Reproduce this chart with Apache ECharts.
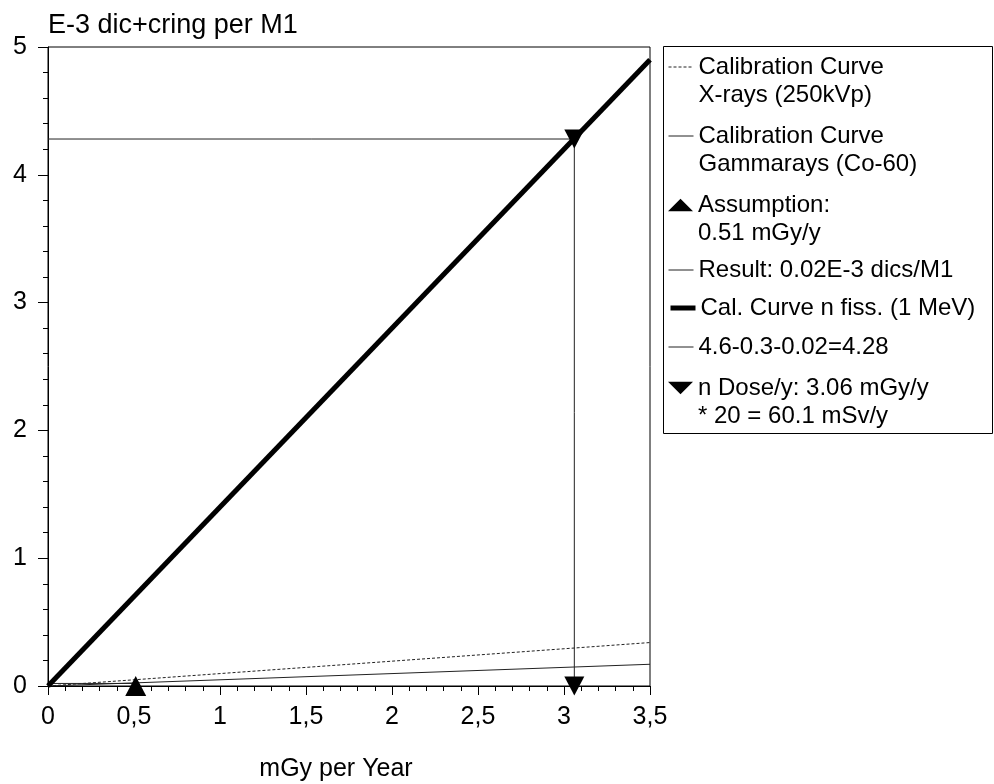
<!DOCTYPE html>
<html><head><meta charset="utf-8">
<script src="https://cdn.jsdelivr.net/npm/echarts@6/dist/echarts.min.js"></script>
<style>html,body{margin:0;padding:0;background:#fff}#c{width:994px;height:784px}</style>
</head><body><div id="c"></div>
<script>
// ---- data ----
const seriesNames = [
  'Calibration Curve\nX-rays (250kVp)',
  'Calibration Curve\nGammarays (Co-60)',
  'Assumption:\n0.51 mGy/y',
  'Result: 0.02E-3 dics/M1',
  'Cal. Curve n fiss. (1 MeV)',
  '4.6-0.3-0.02=4.28',
  'n Dose/y: 3.06 mGy/y\n* 20 = 60.1 mSv/y'
];
const xrayX = [0, 3.5];          const xrayY = [0, 0.34];
const gammaX = [0, 3.5];         const gammaY = [0, 0.17];
const assumptionX = [0.51];      const assumptionY = [0];
const resultX = [0, 0.51];       const resultY = [0.02, 0.02];
const fissX = [0, 3.5];          const fissY = [0, 4.9];
const readX = [0, 3.06, 3.06];   const readY = [4.28, 4.28, 0];
const nDoseX = [3.06, 3.06];     const nDoseY = [4.28, 0];
const xMin = 0, xMax = 3.5, xStep = 0.5;
const yMin = 0, yMax = 5, yStep = 1;
const xTitle = 'mGy per Year';
const yTitle = 'E-3 dic+cring per M1';

const zip = (xs, ys) => xs.map((x, i) => [x, ys[i]]);
const FONT = '"Liberation Sans", Arial, sans-serif';
const fmt = v => String(v).replace('.', ',');

const chart = echarts.init(document.getElementById('c'), null, {renderer: 'canvas'});

// legend layout (one legend per entry so icon aligns with first text line)
const legendRows = [67, 136, 205, 270, 308, 347, 388];
const legendIcons = [null, null, 'path://M1,0L2,1L0,1Z', null, null, null, 'path://M0,0L2,0L1,1Z'];
const legends = seriesNames.map((name, i) => {
  const two = name.indexOf('\n') >= 0;
  const item = {name: name};
  if (legendIcons[i]) item.icon = legendIcons[i];
  else item.itemStyle = {opacity: 0};
  return {
    show: true, left: 668, top: legendRows[i] - (two ? 42 : 14),
    padding: 0, itemWidth: 25, itemHeight: 14, selectedMode: false,
    data: [item],
    lineStyle: {width: 'inherit', type: 'inherit', color: 'inherit'},
    formatter: n => (two ? '\n' + n : n),
    textStyle: {fontFamily: FONT, fontSize: 24, lineHeight: 28, color: '#000'}
  };
});

const thin = {color: '#222', width: 1};
const option = {
  animation: false,
  backgroundColor: '#fff',
  grid: {left: 48, right: 344, top: 47, bottom: 98, show: true, borderColor: '#000', borderWidth: 1,
         containLabel: false, outerBoundsMode: 'none'},
  legend: legends,
  graphic: [{type: 'rect', shape: {x: 663.5, y: 46.5, width: 329, height: 387}, style: {fill: 'none', stroke: '#000', lineWidth: 1}, silent: true}],
  xAxis: {
    type: 'value', min: xMin, max: xMax, interval: xStep,
    name: xTitle, nameLocation: 'middle', nameGap: 71,
    nameTextStyle: {fontFamily: FONT, fontSize: 25, color: '#000', padding: [0, 26, 0, 0]},
    axisLine: {lineStyle: {color: '#000', width: 1}},
    axisTick: {show: true, length: 9, lineStyle: {color: '#000'}},
    minorTick: {show: true, splitNumber: 5, length: 5, lineStyle: {color: '#000'}},
    splitLine: {show: false},
    axisLabel: {fontFamily: FONT, fontSize: 25, color: '#000', margin: 19, formatter: fmt}
  },
  yAxis: {
    type: 'value', min: yMin, max: yMax, interval: yStep,
    name: yTitle, nameLocation: 'end', nameGap: 8,
    nameTextStyle: {fontFamily: FONT, fontSize: 27, color: '#000', align: 'left', verticalAlign: 'bottom'},
    axisLine: {lineStyle: {color: '#000', width: 1}},
    axisTick: {show: true, length: 10, lineStyle: {color: '#000'}},
    minorTick: {show: true, splitNumber: 5, length: 5, lineStyle: {color: '#000'}},
    splitLine: {show: false},
    axisLabel: {fontFamily: FONT, fontSize: 25, color: '#000', margin: 21, formatter: fmt}
  },
  series: [
    {name: seriesNames[0], type: 'line', data: zip(xrayX, xrayY), symbol: 'none', color: '#222',
     lineStyle: {color: '#222', width: 1, type: [3, 2]}},
    {name: seriesNames[1], type: 'line', data: zip(gammaX, gammaY), symbol: 'none', color: '#222', lineStyle: thin},
    {name: seriesNames[2], type: 'scatter', data: zip(assumptionX, assumptionY), symbol: 'triangle', symbolSize: [21, 20],
     itemStyle: {color: '#000', opacity: 1}, z: 5},
    {name: seriesNames[3], type: 'line', data: zip(resultX, resultY), symbol: 'none', color: '#222', lineStyle: thin},
    {name: seriesNames[4], type: 'line', data: zip(fissX, fissY), symbol: 'none', color: '#000',
     lineStyle: {color: '#000', width: 5}, z: 4},
    {name: seriesNames[5], type: 'line', data: zip(readX, readY), symbol: 'none', color: '#222', lineStyle: thin},
    {name: seriesNames[6], type: 'scatter', data: zip(nDoseX, nDoseY), symbol: 'triangle', symbolRotate: 180,
     symbolSize: [20, 19], itemStyle: {color: '#000', opacity: 1}, z: 5}
  ]
};
chart.setOption(option);
</script></body></html>
